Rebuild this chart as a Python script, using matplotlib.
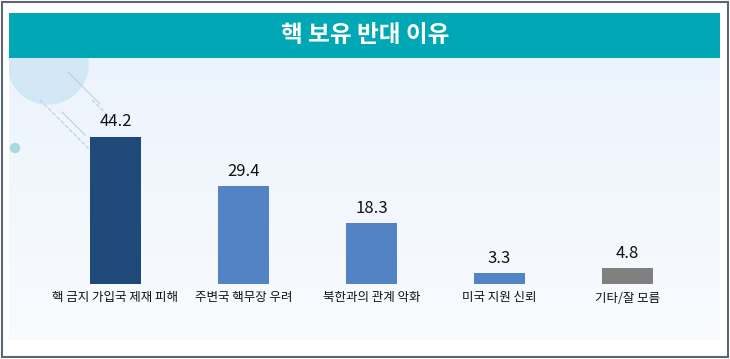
import numpy as np
import matplotlib.pyplot as plt
from matplotlib.patches import Rectangle, Ellipse
from matplotlib.lines import Line2D

plt.rcParams['font.family'] = ['Noto Sans CJK KR', 'DejaVu Sans']

title = '핵 보유 반대 이유'
categories = ['핵 금지 가입국 제재 피해', '주변국 핵무장 우려', '북한과의 관계 악화', '미국 지원 신뢰', '기타/잘 모름']
values = [44.2, 29.4, 18.3, 3.3, 4.8]
colors = ['#1f4979', '#5283c4', '#5283c4', '#5283c4', '#808080']

W, H = 730, 359
fig = plt.figure(figsize=(W / 100, H / 100), dpi=100)
fig.patch.set_facecolor('white')


def px(x, y):
    # pixel (top-left origin) -> figure fraction
    return x / W, 1 - y / H


# panel background with soft gradient (pixel coords inside the panel)
PX0, PY0, PW, PH = 9, 58, 711, 282
bg = fig.add_axes([PX0 / W, 1 - (PY0 + PH) / H, PW / W, PH / H])
grad = np.linspace(0, 1, 256).reshape(-1, 1)
top = np.array([0.925, 0.955, 0.99])
bot = np.array([0.975, 0.985, 0.995])
img = top + (bot - top) * grad[..., None]
bg.imshow(img, aspect='auto', extent=[PX0, PX0 + PW, PY0 + PH, PY0], origin='upper')
bg.set_xlim(PX0, PX0 + PW)
bg.set_ylim(PY0 + PH, PY0)
bg.axis('off')

# decorative shapes top-left
bg.add_patch(Ellipse((48, 64), 80, 80, color='#cfe6f6', alpha=0.85))
bg.add_patch(Ellipse((15, 148), 9, 9, color='#a8dbe0'))
for (x0, y0, x1, y1, ls) in [(40, 100, 90, 150, '--'), (68, 72, 100, 104, '-'),
                             (92, 100, 115, 122, '--'), (62, 112, 85, 135, '-')]:
    bg.add_line(Line2D([x0, x1], [y0, y1], color='#bccfdf', lw=0.8, ls=ls))

# title bar
fig.add_artist(Rectangle(px(9, 58), 711 / W, 45 / H, transform=fig.transFigure,
                         facecolor='#00a7b4', edgecolor='none'))
fig.text(*px(365, 35), title, color='white', fontsize=17, fontweight='bold',
         ha='center', va='center')

# outer border
fig.add_artist(Rectangle(px(2, 357), 726 / W, 355 / H, transform=fig.transFigure,
                         facecolor='none', edgecolor='#5c6670', lw=1.5))

# bars
ax = fig.add_axes([9 / W, 1 - 340 / H, 711 / W, 280 / H])
ax.patch.set_alpha(0)
xs = np.arange(len(values))
ax.bar(xs, values, width=0.4, color=colors)
unit = 147 / 44.2
ax.set_xlim((9 - 115.5) / 128, (720 - 115.5) / 128)
ax.set_ylim(-(340 - 284) / unit, (284 - 60) / unit)
for x, v, c in zip(xs, values, categories):
    ax.text(x, v + 15 / unit, f'{v:.1f}', ha='center', va='center', fontsize=12, color='#111111')
    ax.text(x, -14 / unit, c, ha='center', va='center', fontsize=9, color='#111111',
            fontweight='medium')
ax.axis('off')

fig.savefig('out.png', dpi=100)
